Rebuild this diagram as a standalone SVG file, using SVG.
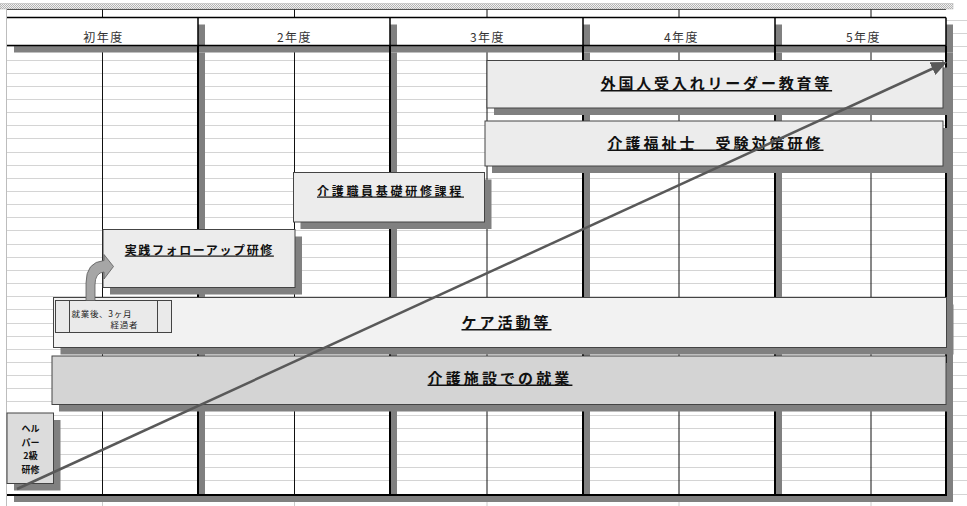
<svg xmlns="http://www.w3.org/2000/svg" width="967" height="506" viewBox="0 0 967 506">
<defs>
<style>
.hdr{font-family:"Noto Sans CJK JP","Noto Sans CJK SC",sans-serif;font-size:12px;fill:#333;letter-spacing:1.5px;text-anchor:middle}
.lbl{font-family:"Noto Sans CJK JP","Noto Sans CJK SC",sans-serif;font-weight:700;fill:#111;text-anchor:middle;text-decoration:underline}
.hl{font-family:"Noto Sans CJK JP","Noto Sans CJK SC",sans-serif;font-weight:700;fill:#111;text-anchor:middle;font-size:9px}
.sm{font-family:"Noto Sans CJK JP","Noto Sans CJK SC",sans-serif;font-size:8.5px;fill:#222;letter-spacing:0.7px}
.box{stroke:#444;stroke-width:1}
.shd{fill:#808080}
.grid{stroke:#d4d4d4;stroke-width:1;fill:none}
.tline{stroke:#000;fill:none}
</style>
<pattern id="dots" width="2" height="2" patternUnits="userSpaceOnUse">
<rect width="2" height="2" fill="#f2f2f2"/>
<rect width="1" height="1" fill="#b4b4b4"/>
<rect x="1" y="1" width="1" height="1" fill="#b4b4b4"/>
</pattern>
<marker id="ah" markerUnits="userSpaceOnUse" markerWidth="16" markerHeight="14" refX="4" refY="7" orient="auto">
<path d="M0,0 L16,7 L0,14 Z" fill="#595959"/>
</marker>
</defs>
<rect width="967" height="506" fill="#fff"/>
<g id="sheet">
<rect x="0" y="3.5" width="953" height="5.5" fill="url(#dots)" stroke="#b0b0b0" stroke-width="0.5"/>
<line x1="7" y1="9.5" x2="946" y2="9.5" stroke="#555" stroke-width="1"/>
<path class="grid" d="M7 20.5H967M7 33.5H967M7 46.5H967M7 60.5H967M7 73.5H967M7 86.5H967M7 99.5H967M7 112.5H967M7 125.5H967M7 138.5H967M7 152.5H967M7 165.5H967M7 178.5H967M7 191.5H967M7 204.5H967M7 217.5H967M7 230.5H967M7 244.5H967M7 257.5H967M7 270.5H967M7 283.5H967M7 296.5H967M7 309.5H967M7 323.5H967M7 336.5H967M7 349.5H967M7 362.5H967M7 375.5H967M7 388.5H967M7 401.5H967M7 415.5H967M7 428.5H967M7 441.5H967M7 454.5H967M7 467.5H967M7 480.5H967M7 494.5H967"/>
<path d="M102.5 495V506M294.5 495V506M487 495V506M679 495V506M871 495V506" stroke="#ccc" stroke-width="1"/>
<line x1="6.5" y1="9" x2="6.5" y2="506" stroke="#bdbdbd" stroke-width="1"/>
<path d="M102.5 9.5V495M294.5 9.5V495M487 9.5V495M679 9.5V495M871 9.5V495" stroke="#111" stroke-width="1"/>
<g fill="#fff">
<rect x="7" y="17.5" width="191" height="28"/>
<rect x="198" y="17.5" width="192" height="28"/>
<rect x="390" y="17.5" width="193" height="28"/>
<rect x="583" y="17.5" width="192" height="28"/>
<rect x="775" y="17.5" width="171" height="28"/>
</g>
<path class="shd" d="M198 24.5H205V52.5H14V45.5H198Z M390 24.5H397V52.5H205V45.5H390Z M583 24.5H590V52.5H397V45.5H583Z M775 24.5H782V52.5H590V45.5H775Z M946 24.5H953V52.5H782V45.5H946Z"/>
<path class="shd" d="M198 52.5H205V502H14V495H198Z M390 52.5H397V502H205V495H390Z M583 52.5H590V502H397V495H583Z M775 52.5H782V502H590V495H775Z M946 52.5H953V502H782V495H946Z"/>
<path class="tline" stroke-width="1.5" d="M7 17.5H946M7 45.5H946M198 17.5V45.5M390 17.5V45.5M583 17.5V45.5M775 17.5V45.5M946 17.5V45.5"/>
<path class="tline" stroke-width="2" d="M198 45.5V495M390 45.5V495M583 45.5V495M775 45.5V495M946 45.5V496M7 495H947"/>
<text class="hdr" x="103.5" y="42">初年度</text>
<text class="hdr" x="294.5" y="42">2年度</text>
<text class="hdr" x="487.5" y="42">3年度</text>
<text class="hdr" x="681.5" y="42">4年度</text>
<text class="hdr" x="863.5" y="42">5年度</text>
</g>
<g id="node-foreign">
<path class="shd" d="M943 67.5H950V115H494V108H943Z"/>
<rect class="box" x="487" y="60.5" width="456" height="47.5" fill="#ececec"/>
<text class="lbl" x="716.4" y="89" font-size="15" letter-spacing="2.8">外国人受入れリーダー教育等</text>
</g>
<g id="node-kaigofukushi">
<path class="shd" d="M943 128H950V173H492V166H943Z"/>
<rect class="box" x="485" y="121" width="458" height="45" fill="#ececec"/>
<text class="lbl" x="715.5" y="148.5" font-size="15" letter-spacing="3">介護福祉士　受験対策研修</text>
</g>
<g id="node-kiso">
<path class="shd" d="M484.5 179.5H491.5V229H300.5V222H484.5Z"/>
<rect class="box" x="293.5" y="172.5" width="191" height="49.5" fill="#ececec"/>
<text class="lbl" x="390.5" y="195.5" font-size="12" letter-spacing="2.7">介護職員基礎研修課程</text>
</g>
<g id="node-followup">
<path class="shd" d="M295 236.5H302V294.5H110V287.5H295Z"/>
<rect class="box" x="103" y="229.5" width="192" height="58" fill="#ececec"/>
<text class="lbl" x="199.3" y="254.5" font-size="12" letter-spacing="1.6">実践フォローアップ研修</text>
</g>
<g id="node-care">
<path class="shd" d="M946.5 304.5H953.5V354.5H60.5V347.5H946.5Z"/>
<rect class="box" x="53.5" y="297.5" width="893" height="50" fill="#f2f2f2"/>
<text class="lbl" x="506.5" y="328" font-size="15" letter-spacing="3">ケア活動等</text>
<g id="node-3months">
<rect x="55.5" y="300.5" width="116" height="32" fill="#eaeaea" stroke="#444" stroke-width="1"/>
<path d="M69.5 300.5V332.5M157.5 300.5V332.5" stroke="#444" stroke-width="1"/>
<text class="sm" x="71.5" y="317">就業後、3ヶ月</text>
<text class="sm" x="110.5" y="328">経過者</text>
</g>
</g>
<g id="node-shisetsu">
<path class="shd" d="M946 363H953V411.5H59V404.5H946Z"/>
<rect class="box" x="52" y="356" width="894" height="48.5" fill="#d4d4d4"/>
<text class="lbl" x="500" y="383.5" font-size="15" letter-spacing="3.1">介護施設での就業</text>
</g>
<g id="node-helper">
<path class="shd" d="M53.5 420H60.5V490.5H14V483.5H53.5Z"/>
<rect class="box" x="7" y="413" width="46.5" height="70.5" fill="#dcdcdc"/>
<text class="hl" x="30.5" y="432">ヘル</text>
<text class="hl" x="30.5" y="445.5">パー</text>
<text class="hl" x="30.5" y="459">2級</text>
<text class="hl" x="30.5" y="472.5">研修</text>
</g>
<g id="connectors">
<path d="M86 300.5V283Q86 262 104 260.5V254.5L113.5 266.5L104 279V272Q95 272.5 95 285V300.5Z" fill="#a6a6a6" stroke="#5a5a5a" stroke-width="0.8"/>
<line x1="17" y1="489" x2="936.1" y2="67" stroke="#595959" stroke-width="2.5" marker-end="url(#ah)"/>
</g>
</svg>
